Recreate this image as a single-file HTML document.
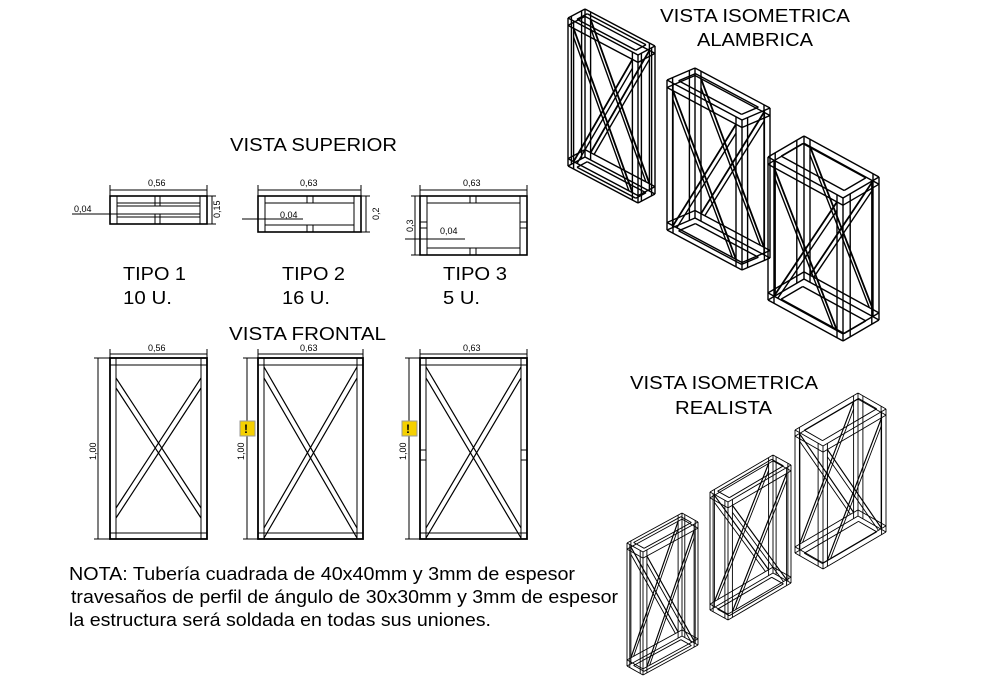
<!DOCTYPE html>
<html><head><meta charset="utf-8"><style>
html,body{margin:0;padding:0;background:#fff;}
svg{display:block;font-family:"Liberation Sans",sans-serif;}
</style></head><body>
<svg id="s" width="987" height="680" viewBox="0 0 987 680" xmlns="http://www.w3.org/2000/svg">
<g fill="#000" font-size="18" lengthAdjust="spacingAndGlyphs">
<text x="230" y="151" textLength="167" lengthAdjust="spacingAndGlyphs">VISTA SUPERIOR</text>
<text x="229" y="340" textLength="157" lengthAdjust="spacingAndGlyphs">VISTA FRONTAL</text>
<text x="660" y="22" textLength="190" lengthAdjust="spacingAndGlyphs">VISTA ISOMETRICA</text>
<text x="697" y="46" textLength="116" lengthAdjust="spacingAndGlyphs">ALAMBRICA</text>
<text x="630" y="389" textLength="188" lengthAdjust="spacingAndGlyphs">VISTA ISOMETRICA</text>
<text x="675" y="414" textLength="97" lengthAdjust="spacingAndGlyphs">REALISTA</text>
<text x="123" y="280" textLength="63" lengthAdjust="spacingAndGlyphs">TIPO 1</text><text x="123" y="304" textLength="49" lengthAdjust="spacingAndGlyphs">10 U.</text>
<text x="282" y="280" textLength="63" lengthAdjust="spacingAndGlyphs">TIPO 2</text><text x="282" y="304" textLength="48" lengthAdjust="spacingAndGlyphs">16 U.</text>
<text x="443" y="280" textLength="64" lengthAdjust="spacingAndGlyphs">TIPO 3</text><text x="443" y="304" textLength="37" lengthAdjust="spacingAndGlyphs">5 U.</text>
<text x="69" y="580" textLength="506" lengthAdjust="spacingAndGlyphs">NOTA: Tubería cuadrada de 40x40mm y 3mm de espesor</text>
<text x="71" y="603" textLength="547" lengthAdjust="spacingAndGlyphs">travesaños de perfil de ángulo de 30x30mm y 3mm de espesor</text>
<text x="69" y="626" textLength="422" lengthAdjust="spacingAndGlyphs">la estructura será soldada en todas sus uniones.</text>
</g>
<g fill="#000" font-size="9">
<text x="148" y="186">0,56</text><text x="300" y="186">0,63</text><text x="463" y="186">0,63</text>
<text x="74" y="212">0,04</text><text x="280" y="218">0,04</text><text x="440" y="234">0,04</text>
<text x="148" y="351">0,56</text><text x="300" y="351">0,63</text><text x="463" y="351">0,63</text>
<text transform="translate(220,218) rotate(-90)">0,15</text>
<text transform="translate(379,220) rotate(-90)">0,2</text>
<text transform="translate(413,232) rotate(-90)">0,3</text>
<text transform="translate(96,460) rotate(-90)">1,00</text>
<text transform="translate(244,460) rotate(-90)">1,00</text>
<text transform="translate(406,460) rotate(-90)">1,00</text>
</g>
<g stroke="#000" fill="none" stroke-width="1">
<path d="M110 190H207M110 185V196M207 185V196M258 190H361M258 185V196M361 185V196M420 190H527M420 185V196M527 185V196"/>
<path d="M212 196V224M207 196H216M207 224H216M366 196V232M361 196H370M361 232H370M415 196V255M411 196H420M411 255H420"/>
<path d="M72 214H130M242 219H303M405 239H465"/>
<rect x="110" y="196" width="97" height="28" stroke-width="1.6"/>
<path d="M117 196V224M200 196V224M117 203H200M117 217H200M117 206H200M117 214H200M155 196V206M160 196V206M155 214V224M160 214V224"/>
<rect x="258" y="196" width="103" height="36" stroke-width="1.6"/>
<path d="M265 196V232M354 196V232M265 203H354M265 225H354M307 196V203M313 196V203M307 225V232M313 225V232"/>
<rect x="420" y="196" width="107" height="59" stroke-width="1.6"/>
<path d="M427 196V255M520 196V255M427 203H520M427 248H520M470 196V203M476 196V203M470 248V255M476 248V255M420 222H427M420 228H427M520 222H527M520 228H527"/>
<path d="M110 354H207M258 354H363M420 354H527M110 349V358M207 349V358M258 349V358M363 349V358M420 349V358M527 349V358"/>
<path d="M98 358V539M94 358H110M94 539H110M247 358V539M243 358H258M243 539H258M409 358V539M405 358H420M405 539H420"/>
<g stroke-width="1.8">
<rect x="110" y="358" width="97" height="181"/>
<rect x="258" y="358" width="105" height="181"/>
<rect x="420" y="358" width="107" height="181"/>
</g>
<path d="M116 358V539M201 358V539M110 365H207M110 533H207"/>
<path d="M116 378L201 508M116 388L201 518M201 378L116 508M201 388L116 518" stroke-width="1.2"/>
<path d="M264 358V539M357 358V539M258 365H363M258 533H363"/>
<path d="M264 367L357 528M264 378L357 538M357 367L264 528M357 378L264 538" stroke-width="1.2"/>
<path d="M426 358V539M521 358V539M420 365H527M420 533H527M420 450H426M420 460H426M521 450H527M521 460H527"/>
<path d="M426 367L521 528M426 378L521 538M521 367L426 528M521 378L426 538" stroke-width="1.2"/>
</g>
<g>
<rect x="240" y="421" width="15" height="15" fill="#f5d000" stroke="#999"/>
<text x="244" y="433" font-size="12" font-weight="bold">!</text>
<rect x="402" y="421" width="15" height="15" fill="#f5d000" stroke="#999"/>
<text x="406" y="433" font-size="12" font-weight="bold">!</text>
</g>
<g id="iso" stroke="#000" fill="none"></g>
</svg>
<script>
var g=document.getElementById('iso'),out='';
function box(P,W,D,H,t,th,sw){
 function c(a,b,h){return [P[0]+a*W[0]+b*D[0],P[1]+a*W[1]+b*D[1]+h*H];}
 function L(p,q,w){out+='<line x1="'+p[0].toFixed(1)+'" y1="'+p[1].toFixed(1)+'" x2="'+q[0].toFixed(1)+'" y2="'+q[1].toFixed(1)+'" stroke-width="'+(w||sw)+'"/>';}
 var A=[0,t,1-t,1],B=[0,t*2.5,1-t*2.5,1];
 if(t*2.5>0.4){B=[0,0.25,0.75,1];}
 var Hs=[0,th,1-th,1];
 A.forEach(function(a){B.forEach(function(b){ if(a==0||a==1||b==0||b==1) L(c(a,b,0),c(a,b,1));});});
 Hs.forEach(function(h){
  L(c(0,0,h),c(1,0,h));L(c(1,0,h),c(1,1,h));L(c(1,1,h),c(0,1,h));L(c(0,1,h),c(0,0,h));
 });
 [0,1].forEach(function(h){var hh=h?1:0;
  L(c(t,B[1],hh),c(1-t,B[1],hh));L(c(t,B[2],hh),c(1-t,B[2],hh));
  L(c(t,B[1],hh),c(t,B[2],hh));L(c(1-t,B[1],hh),c(1-t,B[2],hh));});
 [0,1].forEach(function(b){
  L(c(t,b,th),c(1-t,b,1-th),sw*1.3);L(c(t,b,th*2.2),c(1-t-0.05,b,1-th),sw);
  L(c(1-t,b,th),c(t,b,1-th),sw*1.3);L(c(1-t,b,th*2.2),c(t+0.05,b,1-th),sw);
 });
}
box([568,18],[70,37],[17,-9],148,0.08,0.05,1.4);
box([667,80],[75,40],[28,-12],150,0.08,0.05,1.4);
box([768,157],[75,41],[36,-21],143,0.08,0.05,1.4);
box([627,543],[55,-30],[16,9],123,0.07,0.05,0.9);
box([710,492],[63,-37],[18,10],118,0.07,0.05,0.9);
box([795,430],[63,-37],[28,16],123,0.07,0.05,0.9);
g.innerHTML=out;
</script>
</body></html>
